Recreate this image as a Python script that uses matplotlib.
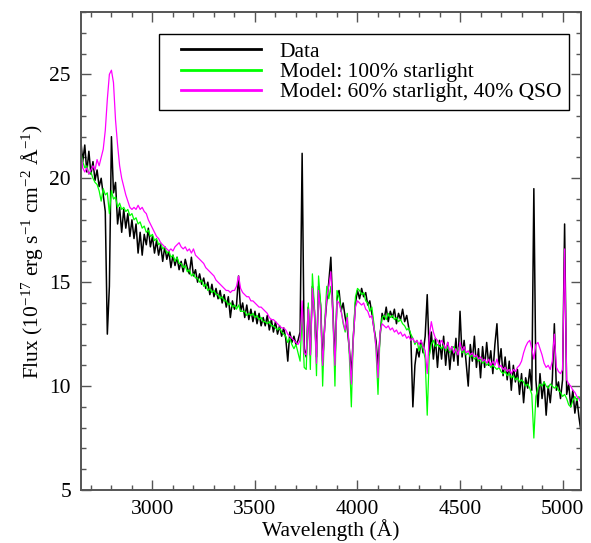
import numpy as np
import matplotlib
matplotlib.use("Agg")
import matplotlib.pyplot as plt
from matplotlib.ticker import MultipleLocator

COL_DATA = "black"
COL_STARS = "#00ff00"
COL_QSO = "#ff00ff"
COL_AXIS = "#555555"

# spectra are sampled on a regular 10 A grid, 2650 .. 5090 A
WAVE_START = 2650
WAVE_STEP = 10

# observed flux (1e-17 erg/s/cm^2/A), one row per 100 A
DATA_FLUX = [
    21.9, 20.8, 21.6, 20.3, 21.3, 20.2, 20.8, 19.9, 20.4, 19.6,
    20.0, 19.2, 18.4, 12.5, 14.8, 22.0, 19.3, 19.8, 17.8, 18.6,
    17.4, 18.5, 17.6, 18.3, 17.2, 18.0, 17.1, 17.8, 16.4, 17.4,
    16.3, 17.3, 16.8, 17.6, 16.7, 17.2, 16.4, 17.0, 16.3, 16.8,
    16.0, 16.7, 16.1, 16.5, 15.7, 16.3, 15.8, 16.2, 15.6, 16.0,
    15.5, 16.1, 15.7, 15.4, 16.2, 15.3, 15.6, 15.0, 15.4, 14.9,
    15.2, 14.7, 15.0, 14.4, 14.9, 14.3, 14.7, 14.2, 14.6, 14.0,
    14.4, 13.8, 14.3, 13.3, 14.1, 13.7, 13.9, 15.3, 13.6, 14.0,
    13.3, 13.9, 13.2, 13.7, 13.1, 13.6, 13.0, 13.5, 12.9, 13.3,
    12.9, 13.4, 12.7, 13.2, 12.6, 13.1, 12.5, 12.9, 12.4, 12.8,
    12.3, 11.2, 12.6, 12.1, 12.4, 12.0, 12.2, 12.6, 21.2, 11.8,
    11.4, 13.8, 11.5, 14.8, 13.6, 11.4, 14.8, 13.9, 11.2, 12.9,
    14.1, 15.0, 16.2, 13.6, 11.2, 14.2, 14.6, 13.6, 14.0, 13.3,
    12.8, 11.8, 10.6, 12.4, 14.0, 14.6, 14.2, 14.7, 14.3, 14.5,
    13.9, 14.1, 13.5, 12.8, 12.2, 11.0, 12.4, 13.5, 13.2, 13.8,
    13.1, 13.6, 13.3, 13.7, 13.0, 13.5, 13.2, 13.7, 13.1, 13.4,
    12.8, 12.4, 9.0, 11.0, 11.8, 11.4, 12.2, 11.6, 12.4, 14.4,
    11.5, 12.6, 11.3, 12.3, 10.9, 12.2, 11.3, 12.4, 11.0, 12.1,
    10.8, 11.9, 11.2, 12.3, 11.0, 13.6, 11.4, 12.2, 11.1, 10.0,
    12.0, 11.2, 12.4, 10.9, 11.8, 10.4, 11.9, 10.9, 12.1, 11.0,
    11.7, 10.6, 12.0, 13.0, 11.0, 11.8, 10.5, 11.4, 10.3, 11.2,
    9.8, 11.0, 10.2, 10.8, 9.6, 10.6, 9.2, 10.4, 9.9, 10.8,
    9.8, 19.5, 10.3, 9.0, 10.6, 9.4, 10.2, 8.6, 10.0, 9.2,
    10.3, 13.0, 9.8, 10.2, 9.4, 10.3, 17.8, 9.6, 10.1, 9.0,
    9.8, 8.7, 9.4, 8.5, 7.8,
]

# model: 100% starlight
STARS_FLUX = [
    21.3, 20.8, 20.5, 20.6, 20.2, 20.3, 20.0, 19.8, 19.7, 19.4,
    18.9, 19.5, 19.2, 19.3, 18.3, 19.4, 19.0, 19.1, 18.6, 18.8,
    18.5, 18.6, 18.4, 18.5, 18.2, 18.3, 18.0, 18.1, 17.8, 17.9,
    17.6, 17.7, 17.4, 17.5, 17.2, 17.3, 17.0, 17.1, 16.8, 16.9,
    16.6, 16.7, 16.4, 16.5, 16.2, 16.3, 16.0, 16.2, 15.9, 15.9,
    15.7, 15.8, 15.5, 15.6, 15.3, 15.4, 15.2, 15.2, 15.0, 15.1,
    14.8, 14.9, 14.6, 14.7, 14.5, 14.6, 14.4, 14.4, 14.2, 14.3,
    14.1, 14.1, 13.9, 14.0, 13.8, 13.9, 13.7, 13.9, 13.6, 13.6,
    13.6, 13.4, 13.5, 13.4, 13.5, 13.3, 13.4, 13.2, 13.3, 13.1,
    13.1, 13.0, 13.1, 12.9, 12.9, 12.8, 12.7, 12.8, 12.6, 12.5,
    12.4, 12.1, 12.3, 12.0, 11.8, 12.0, 11.6, 11.2, 13.5, 10.9,
    10.8, 14.0, 10.8, 15.4, 13.8, 10.5, 15.3, 14.0, 10.0, 13.0,
    14.8, 14.2, 14.8, 13.5, 10.0, 14.6, 14.3, 13.7, 13.0, 12.6,
    13.5, 11.5, 9.0, 12.5, 14.3, 14.7, 14.6, 14.4, 14.5, 14.1,
    14.0, 13.6, 13.8, 13.0, 11.8, 9.6, 12.5, 13.3, 13.4, 13.2,
    13.5, 13.3, 13.4, 13.2, 13.3, 13.1, 13.2, 13.0, 12.9, 12.7,
    12.8, 12.5, 12.3, 12.0, 12.2, 11.7, 12.0, 11.8, 11.3, 8.6,
    11.5, 12.0, 12.2, 11.9, 12.0, 11.9, 11.8, 12.0, 11.7, 11.9,
    11.6, 11.8, 11.9, 11.6, 11.8, 11.9, 11.6, 11.7, 11.5, 11.6,
    11.4, 11.5, 11.3, 11.4, 11.2, 11.3, 11.1, 11.2, 11.0, 11.1,
    10.9, 11.0, 10.9, 10.8, 10.9, 10.7, 10.6, 10.7, 10.5, 10.6,
    10.4, 10.5, 10.3, 10.4, 10.2, 10.3, 10.2, 10.0, 10.1, 9.9,
    9.6, 7.5, 9.5, 9.9, 10.1, 10.0, 10.2, 10.0, 9.9, 10.1,
    10.0, 9.9, 10.0, 9.8, 9.7, 9.5, 9.6, 9.4, 9.1, 9.0,
    9.3, 9.5, 9.3, 9.5, 9.2,
]

# model: 60% starlight, 40% QSO
QSO_FLUX = [
    21.3, 20.5, 20.3, 20.5, 20.2, 20.4, 20.6, 20.4, 20.9, 20.6,
    21.0, 21.4, 22.3, 23.8, 25.0, 25.2, 24.6, 22.8, 21.6, 20.6,
    20.0, 19.6, 19.2, 18.9, 18.6, 18.5, 18.6, 18.5, 18.7, 18.5,
    18.6, 18.4, 18.3, 18.0, 17.8, 17.6, 17.4, 17.2, 17.1, 16.9,
    16.8, 16.7, 16.6, 16.5, 16.6, 16.5, 16.7, 16.8, 16.9, 16.7,
    16.6, 16.7, 16.5, 16.6, 16.4, 16.6, 16.3, 16.2, 16.1, 16.0,
    15.9, 15.7, 15.6, 15.5, 15.4, 15.3, 15.1, 15.0, 14.9, 14.8,
    14.7, 14.6, 14.6, 14.5, 14.6, 14.6, 14.8, 15.3, 14.7, 14.5,
    14.4, 14.3, 14.3, 14.1, 14.1, 14.0, 13.9, 13.8, 13.8, 13.7,
    13.6, 13.5, 13.3, 13.2, 13.2, 13.1, 13.0, 12.9, 12.8, 12.8,
    12.7, 12.5, 12.4, 12.3, 12.2, 12.1, 12.0, 12.2, 14.1, 11.6,
    11.5, 13.7, 11.5, 14.7, 13.5, 11.1, 14.6, 13.6, 11.0, 12.8,
    14.3, 14.8, 15.5, 13.3, 11.0, 14.1, 14.0, 13.6, 13.1, 12.7,
    13.3, 11.8, 10.1, 12.4, 13.8, 14.1, 14.0, 13.9, 14.0, 13.7,
    13.6, 13.3, 13.4, 12.8, 11.9, 10.4, 12.6, 13.0, 12.9, 12.8,
    12.9, 12.7, 12.8, 12.6, 12.7, 12.5, 12.6, 12.4, 12.5, 12.3,
    12.4, 12.2, 12.3, 12.1, 12.2, 12.0, 12.2, 11.9, 11.7, 10.6,
    12.4, 13.1, 12.6, 12.3, 12.2, 12.0, 12.2, 12.0, 11.8, 12.1,
    11.7, 11.9, 11.6, 11.8, 11.5, 12.1, 11.7, 11.9, 11.6, 11.7,
    11.5, 11.6, 11.4, 11.5, 11.3, 11.4, 11.2, 11.3, 11.1, 11.3,
    11.0, 11.2, 11.0, 11.3, 10.9, 11.0, 10.8, 10.9, 10.7, 10.8,
    10.6, 10.8, 10.7, 10.9, 11.0, 11.2, 11.6, 11.9, 12.1, 12.2,
    11.8, 11.3, 12.0, 12.1, 11.8, 11.5, 11.1, 10.9, 11.0, 10.8,
    11.2, 12.5, 10.9, 10.7, 10.6, 10.8, 16.6, 10.3, 10.1, 10.0,
    9.8, 9.7, 9.5, 9.4, 9.2,
]

wave = WAVE_START + WAVE_STEP * np.arange(len(DATA_FLUX))

plt.rcParams["font.family"] = "Liberation Serif"
plt.rcParams["mathtext.fontset"] = "custom"
plt.rcParams["mathtext.rm"] = "Liberation Serif"
plt.rcParams["mathtext.it"] = "Liberation Serif:italic"

fig = plt.figure(figsize=(5.91, 5.43), dpi=100)
ax = fig.add_axes([0.1365, 0.0976, 0.8466, 0.8803])

ax.plot(wave, DATA_FLUX, color=COL_DATA, linewidth=1.1, label="Data")
ax.plot(wave, STARS_FLUX, color=COL_STARS, linewidth=0.9, label="Model: 100% starlight")
ax.plot(wave, QSO_FLUX, color=COL_QSO, linewidth=0.9, label="Model: 60% starlight, 40% QSO")

ax.set_xlim(2650, 5090)
ax.set_ylim(5, 28)

ax.xaxis.set_major_locator(MultipleLocator(500))
ax.xaxis.set_minor_locator(MultipleLocator(100))
ax.yaxis.set_major_locator(MultipleLocator(5))
ax.yaxis.set_minor_locator(MultipleLocator(1))

ax.tick_params(which="both", direction="in", top=True, right=True,
               color=COL_AXIS, width=1.0, labelsize=15.5)
ax.tick_params(which="major", length=7, pad=7)
ax.tick_params(which="minor", length=3.5)
for sp in ax.spines.values():
    sp.set_color(COL_AXIS)
    sp.set_linewidth(1.4)

ax.set_xlabel("Wavelength (Å)", fontsize=15.5, labelpad=0)
ax.set_ylabel("Flux (10$^{-17}$ erg s$^{-1}$ cm$^{-2}$ Å$^{-1}$)", fontsize=15.5, labelpad=3)

leg = ax.legend(loc="upper right", bbox_to_anchor=(0.976, 0.954), borderaxespad=0,
                fontsize=15.5, handlelength=4.37, handletextpad=0.84, labelspacing=0.0,
                fancybox=False, framealpha=1, edgecolor="black", borderpad=0.37)
leg.get_frame().set_linewidth(1.0)
# handles start a bit right of the frame, as in the original
for line in leg.get_lines():
    line.set_linewidth(2.0)
    x0, x1 = line.get_xdata()[0], line.get_xdata()[-1]
    line.set_xdata([x0 + 0.15 * (x1 - x0), x1])
    line.set_ydata(line.get_ydata()[:1].repeat(2))

fig.savefig("out.png", dpi=100)
